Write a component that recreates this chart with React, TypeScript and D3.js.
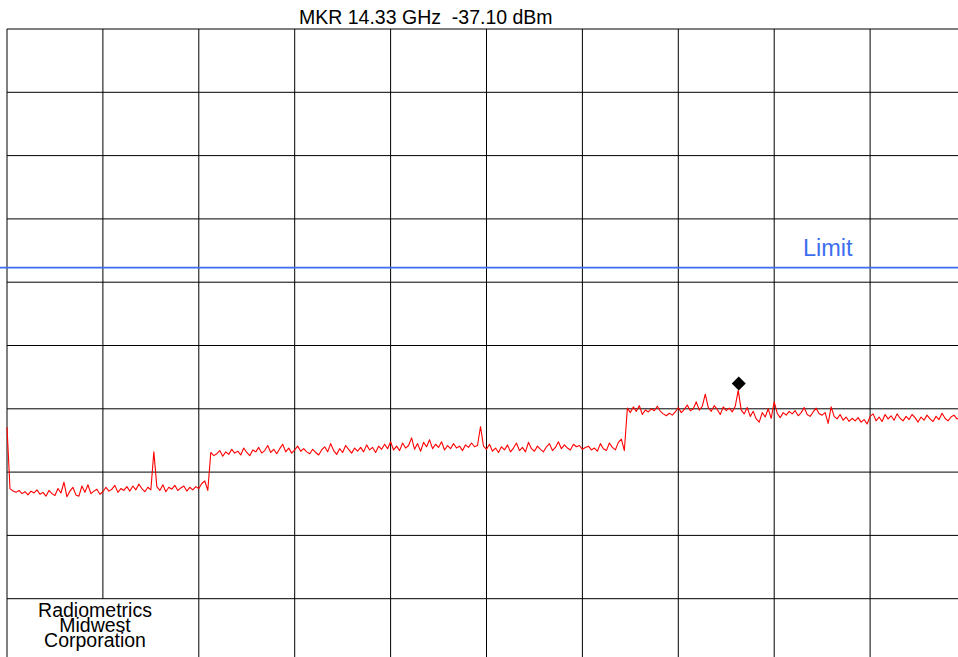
import React from "react";
import * as d3 from "d3";

// Sweep settings (GHz) and display scale (dBm)
const START_GHZ = 1;
const STOP_GHZ = 18.47;
const REF_LEVEL_DBM = 20;
const BOTTOM_DBM = -80;
const LIMIT_DBM = -17.7;
const MARKER_GHZ = 14.33;
const MARKER_DBM = -37.1;
const TITLE = "MKR 14.33 GHz  -37.10 dBm";
const LOGO_LINES = ["Radiometrics", "Midwest", "Corporation"];

// Trace values in dBm, band by band
const band1 = [
  -42.9, -52.6, -53.0, -53.2, -52.9, -53.4, -53.1, -53.6, -53.0, -53.3, -52.8,
  -53.5, -53.2, -53.8, -52.9, -53.4, -53.7, -52.6, -53.3, -51.6, -53.9,
  -53.0, -52.4, -53.6, -53.8, -52.2, -53.2, -52.0, -53.4, -53.0, -52.7,
  -53.5, -53.1, -52.4, -53.0, -52.7, -52.1, -53.2, -52.6, -52.9, -52.3,
  -53.0, -52.2, -52.8, -51.9, -52.6, -53.1, -52.4, -52.8, -46.8, -52.3,
  -52.9, -52.0, -53.1, -52.4, -52.7, -52.1, -52.9, -52.5, -52.2, -53.0,
  -52.4, -52.8, -52.3, -52.6, -51.8, -51.4, -52.9,
];
const band2 = [
  -46.9, -47.4, -47.1, -46.6, -47.5, -46.8, -47.2, -46.4, -47.0, -46.7,
  -47.3, -46.2, -46.9, -47.4, -46.5, -46.8, -46.1, -47.0, -46.6, -45.8,
  -46.9, -46.4, -47.1, -46.3, -45.6, -46.8, -46.2, -47.0, -46.5, -45.9,
  -46.7, -46.3, -46.8, -47.1, -46.4, -46.9, -47.3, -46.5, -46.0, -46.8,
  -45.5, -46.6, -47.2, -46.3, -46.9, -45.8, -46.4, -47.0, -46.2, -46.7,
  -46.1, -46.8, -45.7, -46.5, -46.1, -46.9, -45.9, -46.4, -45.6, -46.3,
  -45.2, -46.5, -45.9, -46.6, -45.4, -46.2, -45.8, -44.6, -46.4, -45.5,
  -46.7, -45.3, -46.0, -44.9, -46.3, -45.6, -46.1, -45.2, -46.5, -45.8,
  -46.3, -45.5, -46.2, -45.9, -46.6, -45.7, -46.1, -45.4, -46.0, -45.8,
  -42.8, -45.9, -46.4, -45.6, -46.7, -46.2, -46.9, -46.0, -46.5, -45.7,
  -46.8, -46.2, -45.4, -46.6, -46.1, -46.8, -45.3, -46.3, -46.7, -45.9,
  -46.4, -46.8, -46.0, -45.5, -46.6, -46.1, -45.2, -46.3, -45.7, -46.2,
  -46.5, -45.6, -46.0, -45.8, -46.4, -46.1, -45.9, -46.5, -46.2, -46.7,
  -45.5, -46.3, -46.6, -45.4, -46.1, -46.5, -45.3, -44.8, -46.6,
];
const band3 = [
  -39.9, -40.6, -39.7, -40.4, -39.5, -40.9, -40.2, -40.5, -40.0, -40.3,
  -39.6, -40.4, -40.8, -41.1, -40.7, -41.0, -40.5, -39.8, -40.6, -40.1,
  -39.4, -40.3, -40.0, -38.9, -40.2, -39.6, -37.7, -39.8, -40.4, -39.5,
  -40.1, -40.9, -39.7, -40.3, -39.9, -40.5, -39.6, -37.1, -40.2, -40.8,
  -39.8, -41.2, -40.4, -41.6, -42.1, -40.6, -41.3, -40.0, -41.5, -38.9,
  -40.7, -41.4, -40.6, -41.0, -40.4, -40.8, -40.3, -41.1, -40.6, -39.8,
  -40.9, -41.2, -40.5, -39.9, -40.8, -41.0, -40.6, -42.3, -39.7, -41.2,
  -41.6, -40.9, -41.8, -41.3, -42.0, -41.5, -41.9, -41.4, -42.1, -41.7,
  -42.4, -41.2, -40.8, -41.9, -41.3, -42.0, -40.9, -41.6, -41.1, -41.8,
  -40.8, -41.5, -41.9, -41.2, -41.7, -40.9, -41.4, -42.1, -41.3, -41.8,
  -41.0, -41.6, -42.0, -41.2, -41.7, -40.7, -41.5, -41.9, -41.3, -41.0,
  -41.6, -41.4, -41.8, -41.2,
];

const W = 958;
const H = 657;
const PLOT = { left: 7, top: 29, right: 966, bottom: 662 };
const FONT = "'Liberation Sans', Arial, Helvetica, sans-serif";
const BLUE = "#3e6ef0";

export default function App() {
  const trace = [...band1, ...band2, ...band3];
  const n = trace.length;
  const step = (STOP_GHZ - START_GHZ) / (n - 1);
  const points: [number, number][] = trace.map((v, i) => [START_GHZ + i * step, v]);

  const x = d3.scaleLinear().domain([START_GHZ, STOP_GHZ]).range([PLOT.left, PLOT.right]);
  const y = d3.scaleLinear().domain([REF_LEVEL_DBM, BOTTOM_DBM]).range([PLOT.top, PLOT.bottom]);

  const line = d3
    .line<[number, number]>()
    .x((d) => x(d[0]))
    .y((d) => y(d[1]));

  const xDivs = d3.range(11).map((k) => START_GHZ + (k * (STOP_GHZ - START_GHZ)) / 10);
  const yDivs = d3.range(11).map((k) => REF_LEVEL_DBM - k * 10);

  const logoRowTop = y(REF_LEVEL_DBM - 90);
  const mx = x(MARKER_GHZ);
  const my = y(MARKER_DBM);
  const dia = 7;

  return (
    <svg
      width={W}
      height={H}
      style={{ position: "absolute", left: 0, top: 0, background: "#fff" }}
      fontFamily={FONT}
    >
      <rect x={0} y={0} width={W} height={H} fill="#fff" />
      {/* horizontal grid */}
      {yDivs.map((d, i) => (
        <line key={"h" + i} x1={PLOT.left} x2={PLOT.right} y1={y(d)} y2={y(d)} stroke="#000" strokeWidth={1} />
      ))}
      {/* vertical grid */}
      {xDivs.map((d, i) => (
        <line
          key={"v" + i}
          x1={x(d)}
          x2={x(d)}
          y1={PLOT.top}
          y2={i === 1 ? logoRowTop : PLOT.bottom}
          stroke="#000"
          strokeWidth={1}
        />
      ))}
      {/* limit line */}
      <line x1={0} x2={W} y1={y(LIMIT_DBM)} y2={y(LIMIT_DBM)} stroke={BLUE} strokeWidth={1.8} />
      <text x={803} y={256} fontSize={23.5} fill={BLUE}>
        Limit
      </text>
      {/* trace */}
      <path d={line(points) || ""} fill="none" stroke="#ff0000" strokeWidth={1.1} strokeLinejoin="round" />
      {/* marker */}
      <path
        d={`M${mx},${my - 2 * dia} L${mx + dia},${my - dia} L${mx},${my} L${mx - dia},${my - dia} Z`}
        fill="#000"
      />
      {/* title */}
      <text x={299} y={24} fontSize={19.5} fill="#000" style={{ whiteSpace: "pre" }}>
        {TITLE}
      </text>
      {/* logo */}
      {LOGO_LINES.map((t, i) => (
        <text key={t} x={95} y={617 + i * 15} fontSize={19.5} textAnchor="middle" fill="#000">
          {t}
        </text>
      ))}
    </svg>
  );
}
